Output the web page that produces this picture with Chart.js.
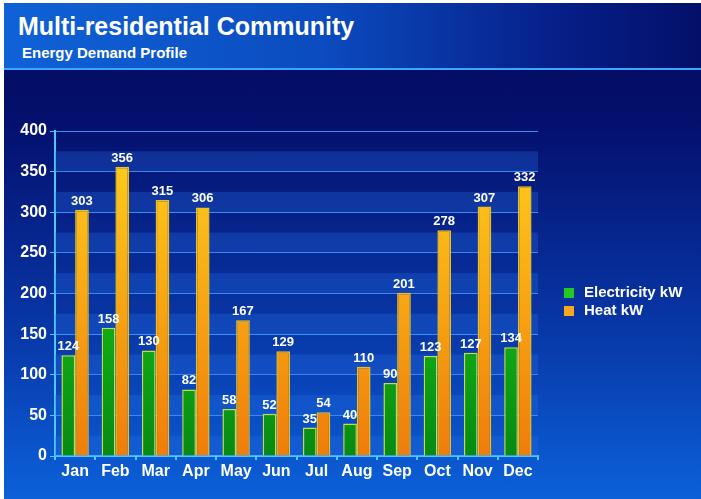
<!DOCTYPE html>
<html>
<head>
<meta charset="utf-8">
<script src="https://cdn.jsdelivr.net/npm/chart.js@4"></script>
<style>
    html, body { margin: 0; padding: 0; background: #fff; }
    body { width: 701px; height: 499px; overflow: hidden; position: relative; font-family: 'Liberation Sans', Arial, sans-serif; }
    #panel {
        position: absolute; left: 4px; top: 3px; right: 0; bottom: 0;
        background: linear-gradient(180deg, #040a5a 0px, #04106e 120px, #0838a8 330px, #0b5ad2 470px, #0c60d8 496px);
    }
    #header {
        position: absolute; left: 0; top: 0; right: 0; height: 65px;
        background: linear-gradient(90deg, #0f62d6 0%, #0b4cc0 45%, #061e88 80%, #03106a 100%);
        border-bottom: 2px solid #3aa6ff;
    }
    #title { position: absolute; left: 14px; top: 9px; color: #fff; font-weight: bold; font-size: 25px; }
    #subtitle { position: absolute; left: 18px; top: 41px; color: #fff; font-weight: bold; font-size: 15px; }
    #chart { position: absolute; left: 0; top: 0; }
    #legend { position: absolute; left: 564px; top: 283px; color: #fff; font-weight: bold; font-size: 15px; }
    #legend div { height: 18px; line-height: 18px; white-space: nowrap; }
    #legend span.box { display: inline-block; width: 10px; height: 10px; margin-right: 10px; vertical-align: -1px; }
</style>
</head>
<body>
<div id="panel">
    <div id="header">
        <div id="title">Multi-residential Community</div>
        <div id="subtitle">Energy Demand Profile</div>
    </div>
</div>
<canvas id="chart" width="701" height="499"></canvas>
<div id="legend"></div>

<script>
// data
const months = ['Jan', 'Feb', 'Mar', 'Apr', 'May', 'Jun', 'Jul', 'Aug', 'Sep', 'Oct', 'Nov', 'Dec'];
const electricityKW = [124, 158, 130, 82, 58, 52, 35, 40, 90, 123, 127, 134];
const heatKW = [303, 356, 315, 306, 167, 129, 54, 110, 201, 278, 307, 332];
const seriesNames = ['Electricity kW', 'Heat kW'];
const yTicks = [0, 50, 100, 150, 200, 250, 300, 350, 400];

const legendSwatches = ['#22c91e', '#f6a91c'];

// legend (html so the text stays real text)
document.getElementById('legend').innerHTML = seriesNames.map((name, i) =>
    `<div><span class="box" style="background:${legendSwatches[i]}"></span>${name}</div>`
).join('');

function barGradient(ctx, top, bottom) {
    const area = ctx.chart.chartArea;
    if (!area) return top;
    const g = ctx.chart.ctx.createLinearGradient(0, area.top, 0, area.bottom);
    g.addColorStop(0, top);
    g.addColorStop(1, bottom);
    return g;
}

// lighter bands in the lower half of every 50 step
const bandsPlugin = {
    id: 'bands',
    beforeDatasetsDraw(chart) {
        const { ctx, chartArea, scales } = chart;
        ctx.save();
        for (let v = 0; v < 400; v += 50) {
            const yTop = scales.y.getPixelForValue(v + 25);
            const yBot = scales.y.getPixelForValue(v);
            ctx.fillStyle = 'rgba(40, 110, 230, 0.3)';
            ctx.fillRect(chartArea.left, yTop, chartArea.right - chartArea.left, yBot - yTop);
        }
        ctx.restore();
    }
};

// value labels above each bar
const valueLabels = {
    id: 'valueLabels',
    afterDatasetsDraw(chart) {
        const ctx = chart.ctx;
        ctx.save();
        ctx.font = "bold 13px 'Liberation Sans', Arial, sans-serif";
        ctx.fillStyle = '#ffffff';
        ctx.textAlign = 'center';
        ctx.textBaseline = 'bottom';
        chart.data.datasets.forEach((ds, i) => {
            chart.getDatasetMeta(i).data.forEach((bar, j) => {
                ctx.fillText(ds.data[j], bar.x, bar.y - 2);
            });
        });
        ctx.restore();
    }
};

const tickFont = { family: "'Liberation Sans', Arial, sans-serif", size: 16, weight: 'bold' };

new Chart(document.getElementById('chart'), {
    type: 'bar',
    data: {
        labels: months,
        datasets: [
            {
                label: seriesNames[0],
                data: electricityKW,
                backgroundColor: c => barGradient(c, '#1fe01a', '#078a12'),
                borderColor: '#c6e03a',
                borderWidth: 1.5
            },
            {
                label: seriesNames[1],
                data: heatKW,
                backgroundColor: c => barGradient(c, '#ffd21e', '#f07d0a'),
                borderColor: '#e8c020',
                borderWidth: 1.5
            }
        ]
    },
    options: {
        responsive: false,
        animation: false,
        events: [],
        categoryPercentage: 0.68,
        barPercentage: 1.0,
        layout: { padding: { left: 0, top: 131, right: 163, bottom: 13 } },
        plugins: { legend: { display: false }, tooltip: { enabled: false } },
        scales: {
            x: {
                afterFit: s => { s.height = 30; },
                grid: { display: true, drawOnChartArea: false, color: '#4cc8ff', tickLength: 4, lineWidth: 2 },
                border: { color: '#4cc8ff', width: 2 },
                ticks: { color: '#ffffff', font: tickFont, padding: 2 }
            },
            y: {
                min: 0,
                max: 400,
                afterFit: s => { s.width = 55; },
                afterBuildTicks: s => { s.ticks = yTicks.map(v => ({ value: v })); },
                grid: { color: '#3d8ef0', lineWidth: 1, tickLength: 5, tickColor: '#4cc8ff' },
                border: { color: '#4cc8ff', width: 2 },
                ticks: { color: '#ffffff', font: tickFont, padding: 3 }
            }
        }
    },
    plugins: [bandsPlugin, valueLabels]
});
</script>
</body>
</html>
